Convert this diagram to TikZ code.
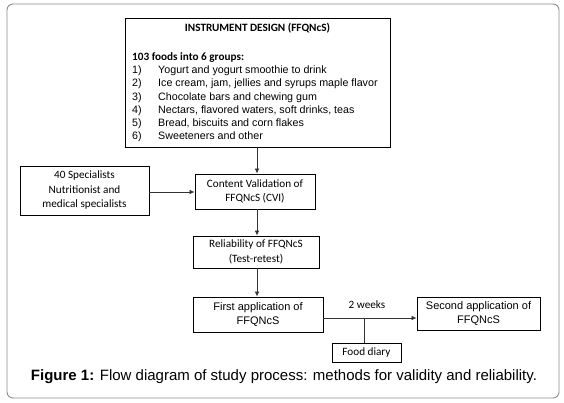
\documentclass[tikz,border=0pt]{standalone}
\usepackage{fontspec}
\setmainfont{Liberation Sans}
\newfontfamily\carl{Carlito}
\usetikzlibrary{arrows.meta}
\begin{document}
\begin{tikzpicture}[x=1pt,y=-1pt,
  box/.style={draw=black, line width=0.9pt, inner sep=0pt},
  txt/.style={font=\carl\fontsize{11.2}{14.5}\selectfont, align=center},
  atxt/.style={font=\fontsize{11}{14.5}\selectfont, align=center},
  arr/.style={draw=black!80, line width=0.7pt, -{Latex[length=5pt,width=4.5pt]}},
  ln/.style={draw=black!80, line width=0.7pt}]
\path[use as bounding box] (0,0) rectangle (564,403);
\draw[black!45, line width=0.9pt, rounded corners=6pt] (7,4) rectangle (559,398);

% instrument design
\node[box, minimum width=265pt, minimum height=129pt] (design) at (257.5,82.5) {};
\node[font=\carl\bfseries\fontsize{11.2}{13}\selectfont] (head) at (257.5,28) {INSTRUMENT DESIGN (FFQNcS)};
\node[anchor=north west, inner sep=0pt, align=left, font=\fontsize{10.7}{13.2}\selectfont] (list) at (132,52.5)
{{\carl\bfseries\fontsize{11.2}{13.2}\selectfont 103 foods into 6 groups:}\\
\makebox[26pt][l]{1)}Yogurt and yogurt smoothie to drink\\
\makebox[26pt][l]{2)}Ice cream, jam, jellies and syrups maple flavor\\
\makebox[26pt][l]{3)}Chocolate bars and chewing gum\\
\makebox[26pt][l]{4)}Nectars, flavored waters, soft drinks, teas\\
\makebox[26pt][l]{5)}Bread, biscuits and corn flakes\\
\makebox[26pt][l]{6)}Sweeteners and other};

\node[box, txt, minimum width=120pt, minimum height=35pt] (cvi) at (255,191.5) {Content Validation of\\FFQNcS (CVI)};
\node[box, txt, minimum width=129pt, minimum height=49pt] (spec) at (84.5,190.5) {40 Specialists\\Nutritionist and\\medical specialists};
\node[box, txt, minimum width=126pt, minimum height=32pt] (rel) at (256,252) {Reliability of FFQNcS\\(Test-retest)};
\node[box, atxt, minimum width=130pt, minimum height=35pt] (first) at (258,314.5) {First application of\\FFQNcS};
\node[box, atxt, minimum width=123pt, minimum height=33pt] (second) at (478.5,313.5) {Second application of\\FFQNcS};
\node[box, txt, minimum width=69pt, minimum height=19pt] (diary) at (366.5,352.5) {Food diary};
\node[txt, inner sep=0pt] (weeks) at (367,305) {2 weeks};
\coordinate (j) at (364,318);

\draw[arr] (design.south -| 257,0) -- (cvi.north -| 257,0);
\draw[arr] (spec.east |- 0,192) -- (cvi.west |- 0,192);
\draw[arr] (cvi.south -| 257,0) -- (rel.north -| 257,0);
\draw[arr] (rel.south -| 257,0) -- (first.north -| 257,0);
\draw[arr] (first.east |- 0,318) -- (second.west |- 0,318);
\draw[ln] (j) -- (diary.north -| j);

\node[font=\fontsize{15}{18}\selectfont] (cap) at (284,377) {\textbf{Figure 1:} Flow diagram of study process: methods for validity and reliability.};
\end{tikzpicture}
\end{document}
